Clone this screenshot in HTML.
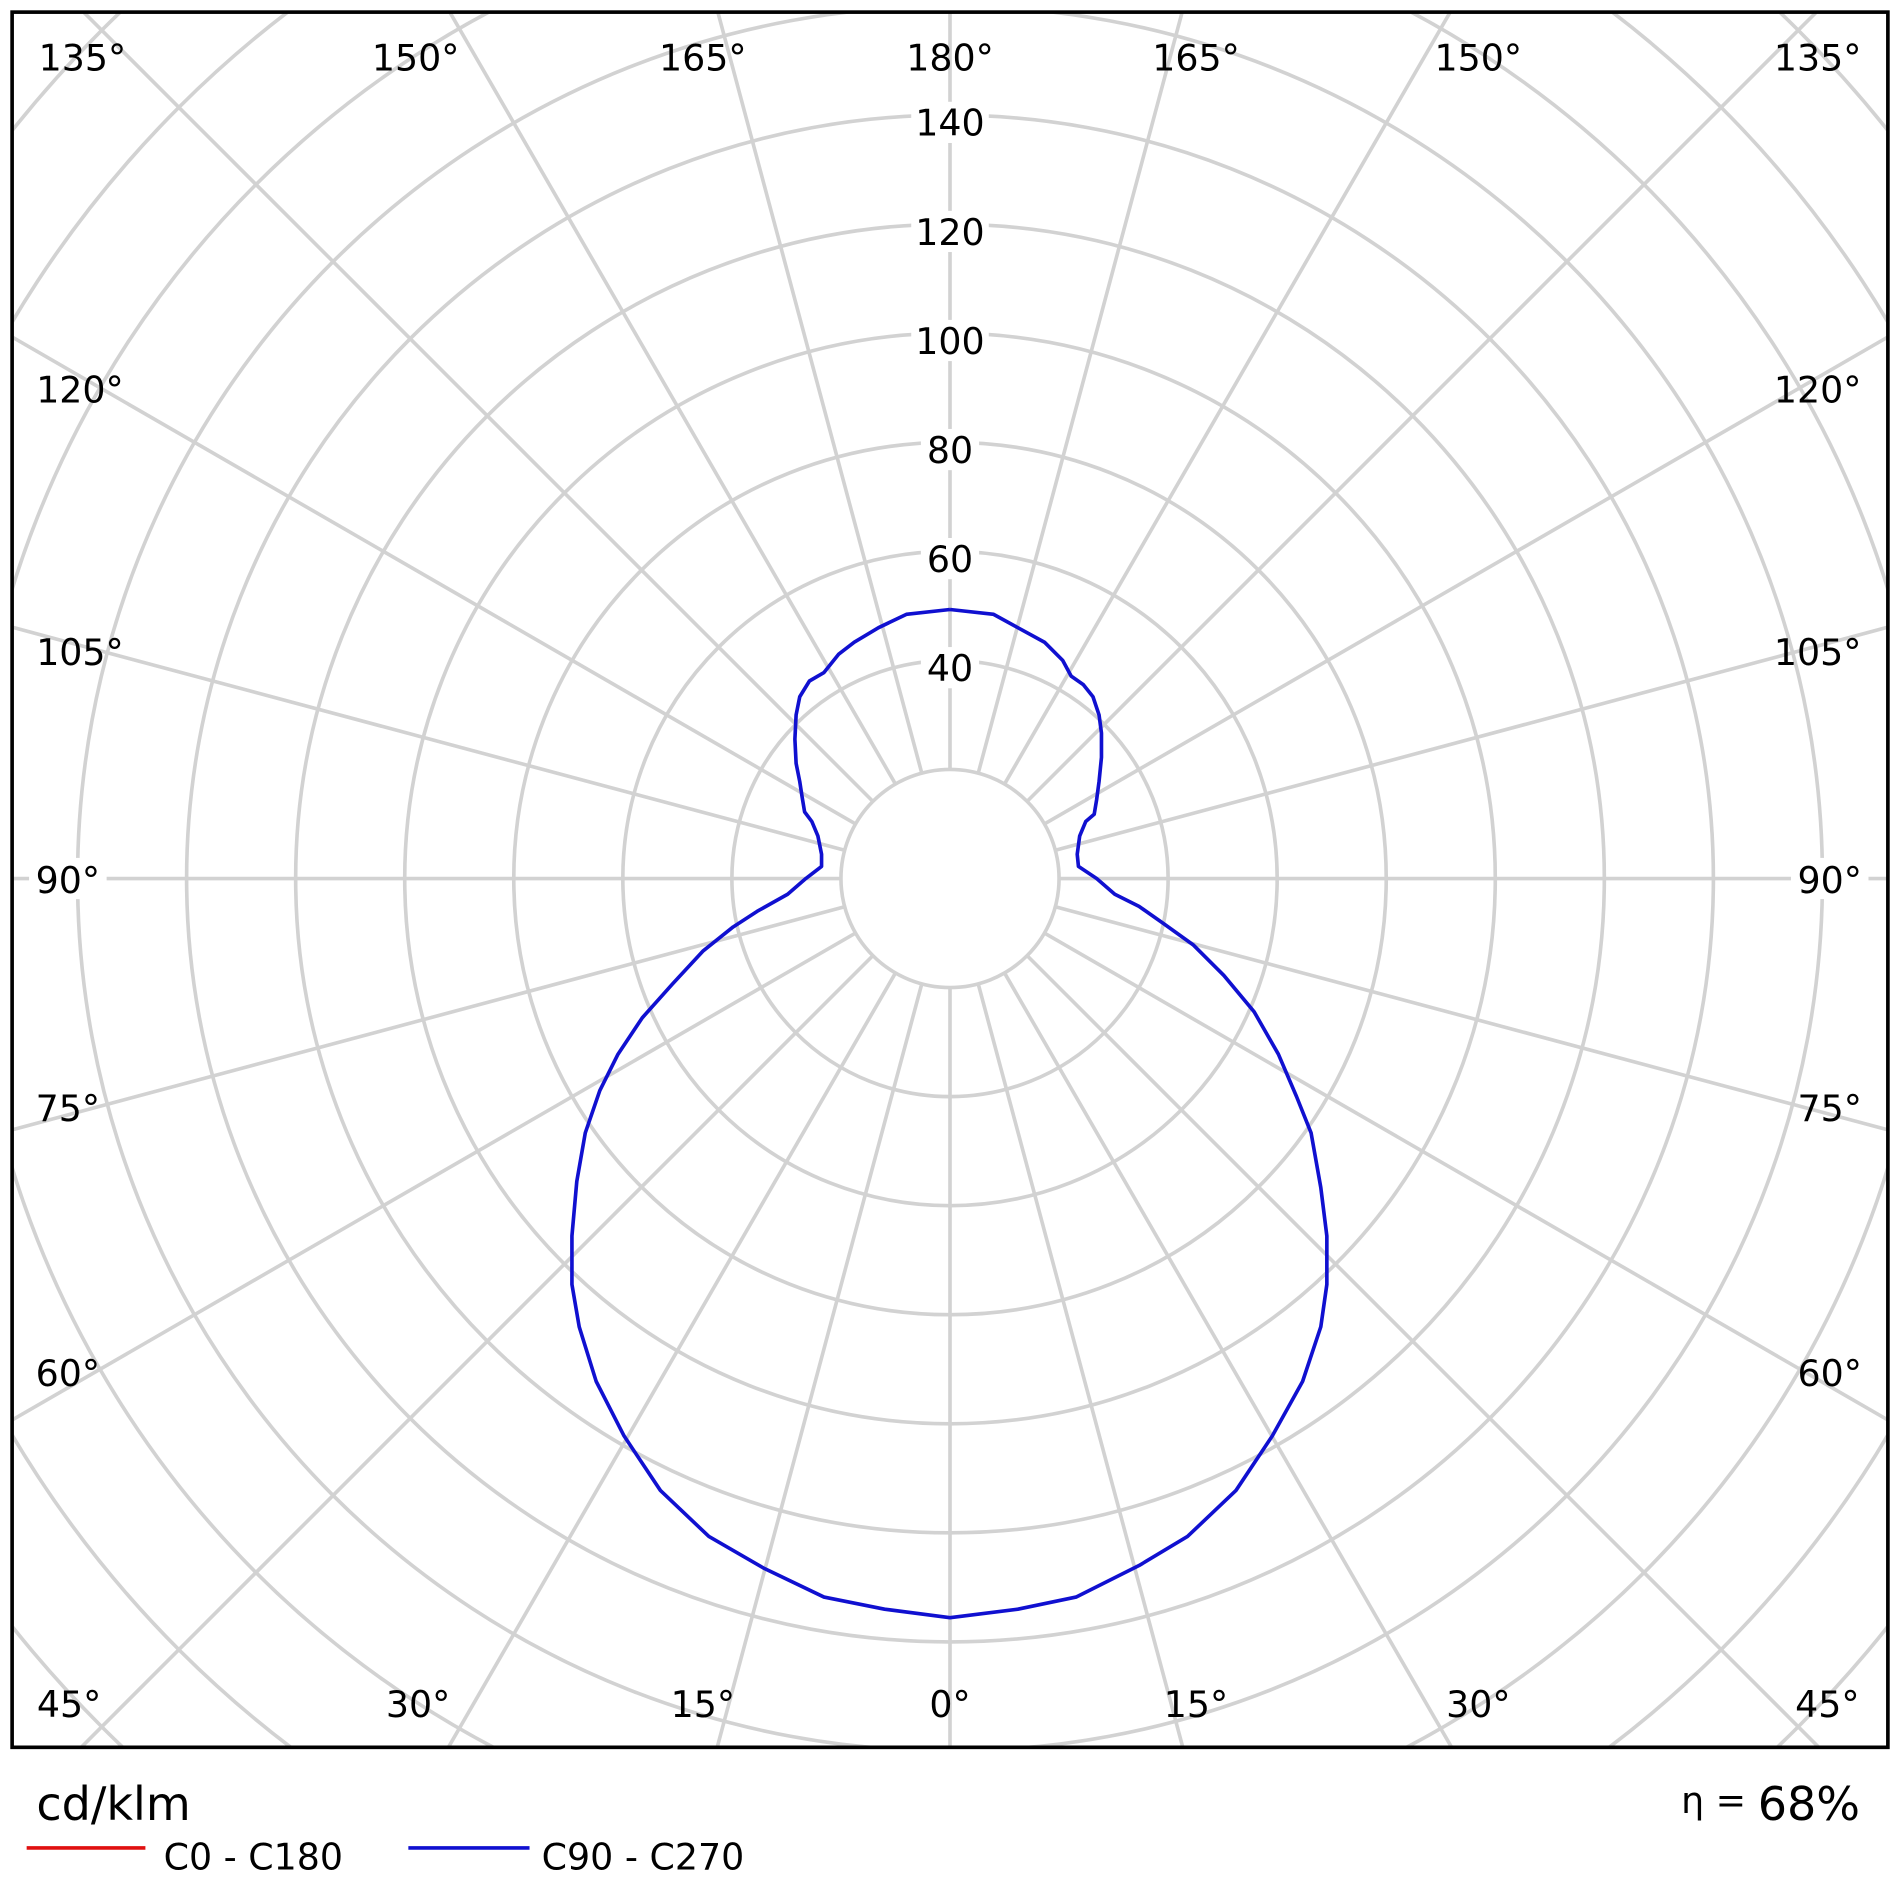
<!DOCTYPE html>
<html><head><meta charset="utf-8"><style>
html,body{margin:0;padding:0;background:#fff;width:1900px;height:1900px;overflow:hidden}
svg{display:block}
text{font-family:"DejaVu Sans","Liberation Sans",sans-serif;fill:#000}
</style></head><body>
<svg width="1900" height="1900" viewBox="0 0 1568 1568" xmlns="http://www.w3.org/2000/svg">
<defs><clipPath id="c"><rect x="10" y="10" width="1548" height="1432"/></clipPath></defs>
<g clip-path="url(#c)" stroke="#d2d2d2" stroke-width="3" fill="none">
<circle cx="784" cy="725" r="90"/><circle cx="784" cy="725" r="180"/><circle cx="784" cy="725" r="270"/>
<circle cx="784" cy="725" r="360"/><circle cx="784" cy="725" r="450"/><circle cx="784" cy="725" r="540"/>
<circle cx="784" cy="725" r="630"/><circle cx="784" cy="725" r="720"/><circle cx="784" cy="725" r="810"/>
<circle cx="784" cy="725" r="900"/><circle cx="784" cy="725" r="990"/><circle cx="784" cy="725" r="1080"/>
<circle cx="784" cy="725" r="1170"/>
<g id="sp"></g>
</g>
<script>
var g=document.getElementById('sp');
for(var a=0;a<360;a+=15){var t=a*Math.PI/180;var s=Math.sin(t),c=Math.cos(t);
var l=document.createElementNS('http://www.w3.org/2000/svg','line');
l.setAttribute('x1',784+90*s);l.setAttribute('y1',725+90*c);l.setAttribute('x2',784+1200*s);l.setAttribute('y2',725+1200*c);g.appendChild(l);}
</script>
<g font-size="30" text-anchor="middle">
<g fill="#fff" stroke="none">
<rect x="752" y="84" width="64" height="34"/><rect x="752" y="174" width="64" height="34"/><rect x="752" y="264" width="64" height="34"/>
<rect x="760" y="354" width="48" height="34"/><rect x="760" y="444" width="48" height="34"/><rect x="760" y="534" width="48" height="34"/>
<rect x="24" y="708" width="64" height="34"/><rect x="1478" y="708" width="64" height="34"/>
</g>
<text x="784" y="112">140</text><text x="784" y="202">120</text><text x="784" y="292">100</text>
<text x="784" y="382">80</text><text x="784" y="472">60</text><text x="784" y="562">40</text>
<text x="68" y="58">135°</text><text x="343" y="58">150°</text><text x="580" y="58">165°</text><text x="784" y="58">180°</text>
<text x="987" y="58">165°</text><text x="1220" y="58">150°</text><text x="1500" y="58">135°</text>
<text x="66" y="332">120°</text><text x="66" y="549">105°</text><text x="56" y="737">90°</text><text x="56" y="925">75°</text><text x="56" y="1144">60°</text>
<text x="1500" y="332">120°</text><text x="1500" y="549">105°</text><text x="1510" y="737">90°</text><text x="1510" y="925">75°</text><text x="1510" y="1144">60°</text>
<text x="57" y="1417">45°</text><text x="345" y="1417">30°</text><text x="580" y="1417">15°</text><text x="784" y="1417">0°</text>
<text x="987" y="1417">15°</text><text x="1220" y="1417">30°</text><text x="1508" y="1417">45°</text>
</g>
<polyline fill="none" stroke="#1010d0" stroke-width="3" stroke-linejoin="round" points="784,503 820,507 840,518 862,530 877,545 884,558 894,565 902,575 907,590 909,605 909,625 907,645 905,660 903,672 896,678 891,690 889,705 890,715 905,725 920,738 940,748 960,762 985,780 1010,805 1035,835 1055,870 1070,905 1082,935 1090,980 1095,1020 1095,1060 1090,1095 1075,1140 1050,1185 1020,1230 980,1268 940,1292 888,1318 840,1328 784,1335 730,1328 680,1318 630,1294 585,1268 545,1230 515,1185 492,1140 478,1095 472,1060 472,1020 476,975 483,935 495,900 510,870 530,840 555,812 580,785 605,765 625,752 650,738 665,725 678,715 678,705 675,690 670,678 664,670 662,658 660,645 657,630 656,610 657,590 660,575 668,562 680,555 692,540 705,530 725,518 748,507 784,503"/>
<rect x="10" y="10" width="1548" height="1432" fill="none" stroke="#000" stroke-width="3"/>
<text x="30" y="1502" font-size="38">cd/klm</text>
<line x1="22" y1="1525" x2="120" y2="1525" stroke="#e01010" stroke-width="3"/>
<text x="135" y="1543" font-size="30">C0 - C180</text>
<line x1="337" y1="1525" x2="437" y2="1525" stroke="#1010d0" stroke-width="3"/>
<text x="447" y="1543" font-size="30">C90 - C270</text>
<text x="1535" y="1502" font-size="38" text-anchor="end"><tspan font-size="30" dy="-6">η = </tspan><tspan dy="6">68%</tspan></text>
</svg>
</body></html>
